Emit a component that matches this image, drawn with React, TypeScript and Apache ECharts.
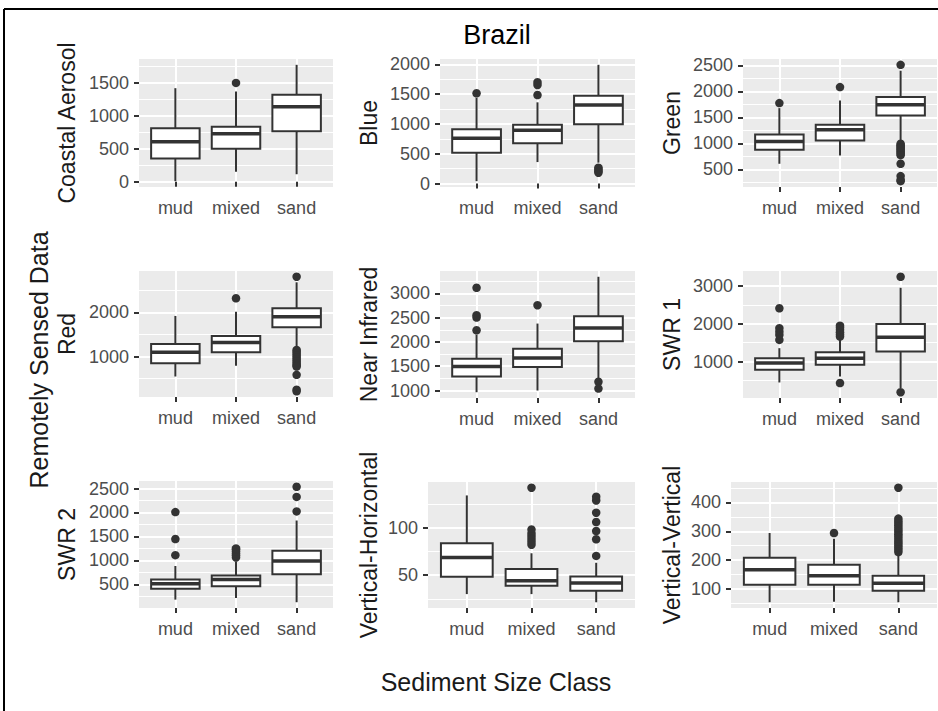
import React, { useEffect, useRef } from 'react';
import * as echarts from 'echarts';

const categories = ['mud', 'mixed', 'sand'];

// Each stats row: [lower whisker, Q1, median, Q3, upper whisker] for mud, mixed, sand
const coastalAerosolStats = [[10, 353, 606, 809, 1415], [152, 500, 727, 833, 1364], [115, 764, 1136, 1314, 1768]];
const coastalAerosolOutliers = [[], [1495], []];
const coastalAerosolTicks = [0, 500, 1000, 1500];
const coastalAerosolMinor = [250, 750, 1250, 1750];

const blueStats = [[39, 518, 760, 912, 1440], [360, 676, 895, 985, 1363], [350, 997, 1318, 1475, 1993]];
const blueOutliers = [[1515], [1486, 1655, 1701], [265, 236, 206, 181]];
const blueTicks = [0, 500, 1000, 1500, 2000];
const blueMinor = [250, 750, 1250, 1750];

const greenStats = [[610, 879, 1038, 1173, 1680], [769, 1058, 1263, 1360, 1827], [1058, 1538, 1744, 1892, 2400]];
const greenOutliers = [[1777], [2085], [2513, 994, 965, 940, 915, 890, 860, 835, 805, 775, 610, 373, 300, 275]];
const greenTicks = [500, 1000, 1500, 2000, 2500];
const greenMinor = [250, 750, 1250, 1750, 2250];

const redStats = [[549, 851, 1099, 1287, 1919], [790, 1099, 1316, 1467, 2016], [1190, 1664, 1903, 2093, 2680]];
const redOutliers = [[], [2318], [2806, 1151, 1110, 1065, 1020, 975, 930, 885, 840, 800, 774, 587, 250, 215]];
const redTicks = [1000, 2000];
const redMinor = [500, 1500, 2500];

const nirStats = [[965, 1289, 1496, 1655, 2150], [1000, 1482, 1669, 1862, 2378], [1242, 2012, 2287, 2529, 3341]];
const nirOutliers = [[2240, 2502, 2550, 3114], [2756], [1180, 1041]];
const nirTicks = [1000, 1500, 2000, 2500, 3000];
const nirMinor = [1250, 1750, 2250, 2750, 3250];

const swir1Stats = [[444, 780, 958, 1090, 1354], [603, 913, 1090, 1249, 1593], [296, 1265, 1646, 1997, 2958]];
const swir1Outliers = [[1574, 1706, 1790, 1884, 2413], [1661, 1720, 1780, 1840, 1900, 1950, 429], [3249, 185]];
const swir1Ticks = [1000, 2000, 3000];
const swir1Minor = [500, 1500, 2500];

const swir2Stats = [[184, 409, 515, 605, 885], [220, 465, 605, 689, 980], [130, 711, 991, 1201, 1833]];
const swir2Outliers = [[1111, 1447, 2009], [1063, 1110, 1150, 1190, 1230, 1250], [2023, 2325, 2536]];
const swir2Ticks = [500, 1000, 1500, 2000, 2500];
const swir2Minor = [250, 750, 1250, 1750, 2250];

const vhStats = [[30, 48.2, 68.5, 83.5, 133.9], [30, 38.8, 44, 56.3, 73], [21.4, 33.5, 41.6, 48.6, 63]];
const vhOutliers = [[], [142, 98, 94, 91, 88, 85, 82], [70.2, 87.7, 96.4, 105.9, 115.7, 128.6, 132.5]];
const vhTicks = [50, 100];
const vhMinor = [25, 75, 125];

const vvStats = [[54, 115, 167, 208, 294], [56, 115, 146, 184, 274], [54, 94, 120, 146, 222]];
const vvOutliers = [[], [294], [451, 228, 236, 243, 251, 259, 266, 274, 282, 290, 298, 305, 313, 321, 329, 336, 344]];
const vvTicks = [100, 200, 300, 400];
const vvMinor = [50, 150, 250, 350, 450];

const panelTitles = ['Coastal Aerosol', 'Blue', 'Green', 'Red', 'Near Infrared', 'SWR 1', 'SWR 2', 'Vertical-Horizontal', 'Vertical-Vertical'];
const panelStats = [coastalAerosolStats, blueStats, greenStats, redStats, nirStats, swir1Stats, swir2Stats, vhStats, vvStats];
const panelOutliers = [coastalAerosolOutliers, blueOutliers, greenOutliers, redOutliers, nirOutliers, swir1Outliers, swir2Outliers, vhOutliers, vvOutliers];
const panelTicks = [coastalAerosolTicks, blueTicks, greenTicks, redTicks, nirTicks, swir1Ticks, swir2Ticks, vhTicks, vvTicks];
const panelMinor = [coastalAerosolMinor, blueMinor, greenMinor, redMinor, nirMinor, swir1Minor, swir2Minor, vhMinor, vvMinor];

// layout (pixels): left, top, width, height, nameGap
const panelLayout = [
  [139, 59, 194, 128, 61],
  [440, 59, 195, 128, 60],
  [743, 59, 194, 128, 60],
  [139, 271, 194, 126, 61],
  [440, 271, 195, 127, 60],
  [743, 271, 194, 127, 60],
  [139, 481, 194, 127, 61],
  [428, 482, 207, 126, 48],
  [731, 482, 206, 126, 48],
];

const FONT = '"Liberation Sans", Arial, sans-serif';
const BOX_WIDTH = 0.8;
const INK = '#333333';
const TICK_TEXT = '#4d4d4d';

function buildOption() {
  const grid: any[] = [];
  const xAxis: any[] = [];
  const yAxis: any[] = [];
  const series: any[] = [];

  panelTitles.forEach((title, i) => {
    const [left, top, width, height, nameGap] = panelLayout[i];
    const stats = panelStats[i];
    const outs = panelOutliers[i];
    const all = stats.flat().concat(outs.flat());
    const lo = Math.min(...all);
    const hi = Math.max(...all);
    const pad = (hi - lo) * 0.05;
    const yMin = lo - pad;
    const yMax = hi + pad;

    grid.push({
      left, top, width, height,
      show: true,
      backgroundColor: '#EBEBEB',
      borderWidth: 0,
      containLabel: false,
      outerBoundsMode: 'none',
    });

    xAxis.push({
      type: 'value',
      gridIndex: i,
      min: 0.4,
      max: 3.6,
      axisLine: { show: false },
      axisTick: { show: true, customValues: [1, 2, 3], length: 5, lineStyle: { color: INK, width: 2 } },
      axisLabel: {
        customValues: [1, 2, 3],
        formatter: (v: number) => categories[Math.round(v) - 1] ?? '',
        fontSize: 18,
        fontFamily: FONT,
        color: TICK_TEXT,
        margin: 12,
      },
      splitLine: { show: true, lineStyle: { color: '#ffffff', width: 2 } },
    });

    yAxis.push({
      type: 'value',
      gridIndex: i,
      min: yMin,
      max: yMax,
      name: title,
      nameLocation: 'middle',
      nameGap,
      nameTextStyle: { fontSize: 23, fontFamily: FONT, color: '#1a1a1a', lineHeight: 23 },
      axisLine: { show: false },
      axisTick: { show: true, customValues: panelTicks[i], length: 5, lineStyle: { color: INK, width: 2 } },
      axisLabel: {
        customValues: panelTicks[i],
        fontSize: 18,
        fontFamily: FONT,
        color: TICK_TEXT,
        margin: 10,
        formatter: (v: number) => String(v),
      },
      splitLine: { show: true, lineStyle: { color: '#ffffff', width: 2 } },
    });
    yAxis.push({
      type: 'value',
      gridIndex: i,
      position: 'left',
      min: yMin,
      max: yMax,
      axisLine: { show: false },
      axisTick: { show: false, customValues: panelMinor[i] },
      axisLabel: { show: false, customValues: panelMinor[i] },
      splitLine: { show: true, lineStyle: { color: '#ffffff', width: 1 } },
    });

    series.push({
      type: 'custom',
      xAxisIndex: i,
      yAxisIndex: 2 * i,
      data: stats.map((s, k) => [k + 1, ...s]),
      encode: { x: 0, y: [1, 2, 3, 4, 5] },
      z: 2,
      renderItem: (_params: any, api: any) => {
        const x = api.value(0);
        const pLo = api.coord([x, api.value(1)]);
        const pQ1 = api.coord([x, api.value(2)]);
        const pMed = api.coord([x, api.value(3)]);
        const pQ3 = api.coord([x, api.value(4)]);
        const pHi = api.coord([x, api.value(5)]);
        const w = api.size([BOX_WIDTH, 0])[0];
        const cx = pQ1[0];
        return {
          type: 'group',
          children: [
            { type: 'line', shape: { x1: cx, y1: pLo[1], x2: cx, y2: pQ1[1] }, style: { stroke: INK, lineWidth: 2 } },
            { type: 'line', shape: { x1: cx, y1: pQ3[1], x2: cx, y2: pHi[1] }, style: { stroke: INK, lineWidth: 2 } },
            { type: 'rect', shape: { x: cx - w / 2, y: pQ3[1], width: w, height: pQ1[1] - pQ3[1] }, style: { fill: '#ffffff', stroke: INK, lineWidth: 2 } },
            { type: 'line', shape: { x1: cx - w / 2, y1: pMed[1], x2: cx + w / 2, y2: pMed[1] }, style: { stroke: INK, lineWidth: 3.5 } },
          ],
        };
      },
    });

    series.push({
      type: 'scatter',
      xAxisIndex: i,
      yAxisIndex: 2 * i,
      data: outs.flatMap((arr, k) => arr.map((v) => [k + 1, v])),
      symbol: 'circle',
      symbolSize: 8.5,
      itemStyle: { color: INK, opacity: 1 },
      z: 3,
    });
  });

  const graphic = [
    { type: 'line', shape: { x1: 4, y1: 9, x2: 938, y2: 9 }, style: { stroke: '#000', lineWidth: 2 } },
    { type: 'line', shape: { x1: 4, y1: 9, x2: 4, y2: 711 }, style: { stroke: '#000', lineWidth: 2 } },
    {
      type: 'text', x: 497, y: 34.5,
      style: { text: 'Brazil', fontSize: 27, fontFamily: FONT, fill: '#000', align: 'center', verticalAlign: 'middle', textAlign: 'center', textVerticalAlign: 'middle' },
    },
    {
      type: 'text', x: 496, y: 681.5,
      style: { text: 'Sediment Size Class', fontSize: 25, fontFamily: FONT, fill: '#1a1a1a', align: 'center', verticalAlign: 'middle', textAlign: 'center', textVerticalAlign: 'middle' },
    },
    {
      type: 'text', x: 39, y: 360, rotation: Math.PI / 2,
      style: { text: 'Remotely Sensed Data', fontSize: 25, fontFamily: FONT, fill: '#1a1a1a', align: 'center', verticalAlign: 'middle', textAlign: 'center', textVerticalAlign: 'middle' },
    },
  ];

  return {
    animation: false,
    backgroundColor: '#ffffff',
    grid,
    xAxis,
    yAxis,
    series,
    graphic,
  };
}

export default function App() {
  const ref = useRef<HTMLDivElement>(null);
  useEffect(() => {
    if (!ref.current) return;
    const chart = echarts.init(ref.current, undefined, { renderer: 'svg' });
    chart.setOption(buildOption() as any);
    return () => chart.dispose();
  }, []);
  return <div ref={ref} style={{ position: 'absolute', left: 0, top: 0, width: 938, height: 711 }} />;
}
